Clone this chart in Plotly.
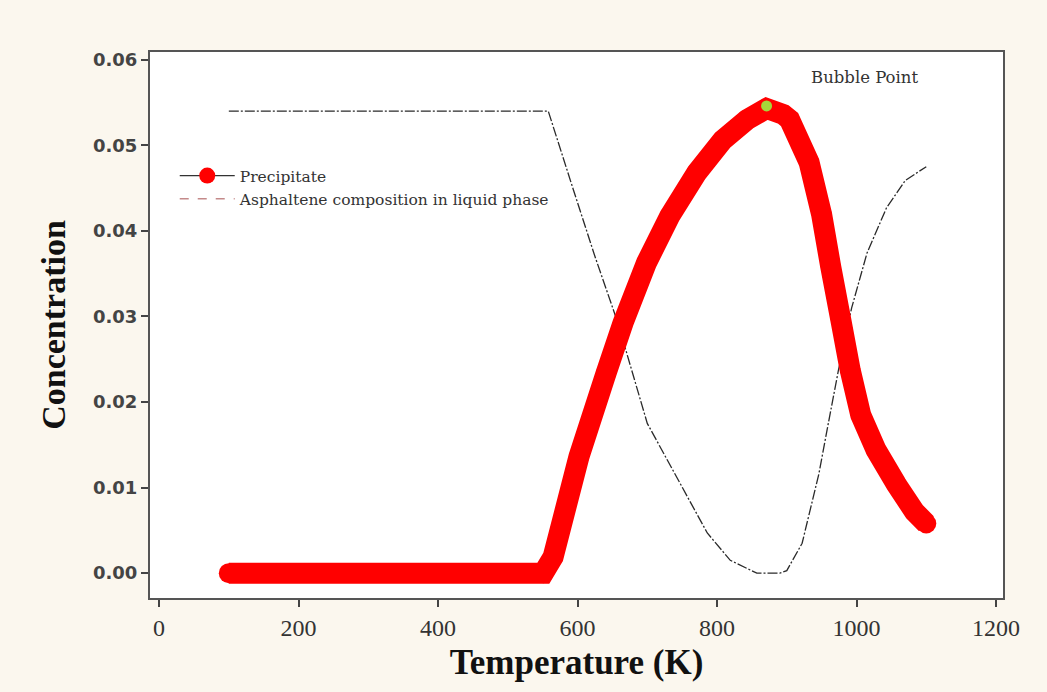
import plotly.graph_objects as go

# Precipitate (red thick curve)
precip_T = [100, 551, 565, 602, 641, 665, 699, 732, 771, 808, 843, 871, 895,
            904, 932, 950, 963, 977, 991, 1006, 1028, 1057, 1083, 1100]
precip_C = [0.0, 0.0, 0.0019, 0.0136, 0.0234, 0.0292, 0.0363, 0.0417, 0.0468, 0.0506, 0.053, 0.0543, 0.0536,
            0.0530, 0.048, 0.0419, 0.0358, 0.0298, 0.0237, 0.0185, 0.0144, 0.0104, 0.0072, 0.0058]

# Asphaltene composition in liquid phase (thin dash-dot curve)
liq_T = [100, 558, 594, 625, 658, 700, 747, 786, 819, 857, 890, 900, 922, 946, 960, 974, 993, 1015, 1043, 1070, 1100]
liq_C = [0.054, 0.054, 0.0448, 0.037, 0.0292, 0.0175, 0.0105, 0.0047, 0.0015, 0.0, 0.0, 0.0003, 0.0035, 0.0116,
         0.0177, 0.0237, 0.031, 0.0374, 0.0427, 0.0459, 0.0475]

bubble_T = [871]
bubble_C = [0.0546]

x_ticks = [0, 200, 400, 600, 800, 1000, 1200]
y_ticks = [0.0, 0.01, 0.02, 0.03, 0.04, 0.05, 0.06]
y_tick_labels = ["0.00", "0.01", "0.02", "0.03", "0.04", "0.05", "0.06"]

fig = go.Figure()

fig.add_trace(go.Scatter(
    x=liq_T, y=liq_C, mode="lines",
    line=dict(color="#2a2a2a", width=1.3, dash="10px,2px,2px,2px", simplify=False),
    showlegend=False, hoverinfo="skip"))

fig.add_trace(go.Scatter(
    x=precip_T, y=precip_C, mode="lines+markers",
    line=dict(color="#ff0000", width=21, simplify=False),
    marker=dict(color="#ff0000", size=20, line=dict(width=0)),
    showlegend=False))

fig.add_trace(go.Scatter(
    x=bubble_T, y=bubble_C, mode="markers",
    marker=dict(color="#a6d63a", size=11, line=dict(width=0)),
    showlegend=False))

# legend-only entries
fig.add_trace(go.Scatter(
    x=[None], y=[None], mode="lines+markers", name="Precipitate",
    line=dict(color="#333333", width=1.2),
    marker=dict(color="#ff0000", size=17)))
fig.add_trace(go.Scatter(
    x=[None], y=[None], mode="lines", name="Asphaltene composition in liquid phase",
    line=dict(color="#c48a8a", width=1.6, dash="dash")))

fig.add_annotation(x=1012, y=0.0579, text="Bubble Point", showarrow=False,
                   xanchor="center",
                   font=dict(family="DejaVu Serif", size=16.5, color="#333333"))

fig.update_layout(
    width=1047, height=692,
    margin=dict(l=150, r=44, t=52, b=94),
    paper_bgcolor="#fbf7ee",
    plot_bgcolor="#ffffff",
    legend=dict(x=0.029, y=0.804, xanchor="left", yanchor="top",
                bgcolor="rgba(0,0,0,0)",
                font=dict(family="DejaVu Serif", size=15.5, color="#333333"),
                itemwidth=55, tracegroupgap=0),
)

fig.update_xaxes(
    range=[-13, 1210], tickvals=x_ticks, ticktext=[str(v) for v in x_ticks],
    showgrid=False, zeroline=False,
    showline=True, mirror=True, linecolor="#555555", linewidth=2,
    ticks="outside", ticklen=7, tickwidth=1.5, tickcolor="#444444",
    tickfont=dict(family="Liberation Serif", size=24, color="#333333"),
    title=dict(text="<b>Temperature (K)</b>", standoff=10,
               font=dict(family="Liberation Serif", size=35, color="#111111")))

fig.update_yaxes(
    range=[-0.0029, 0.0609], tickvals=y_ticks, ticktext=y_tick_labels,
    showgrid=False, zeroline=False,
    showline=True, mirror=True, linecolor="#555555", linewidth=2,
    ticks="outside", ticklen=7, tickwidth=1.5, tickcolor="#444444",
    tickfont=dict(family="DejaVu Sans", size=18, color="#444444", weight="bold"),
    title=dict(text="<b>Concentration</b>", standoff=17,
               font=dict(family="Liberation Serif", size=34, color="#111111")))

fig.write_html("out.html")
